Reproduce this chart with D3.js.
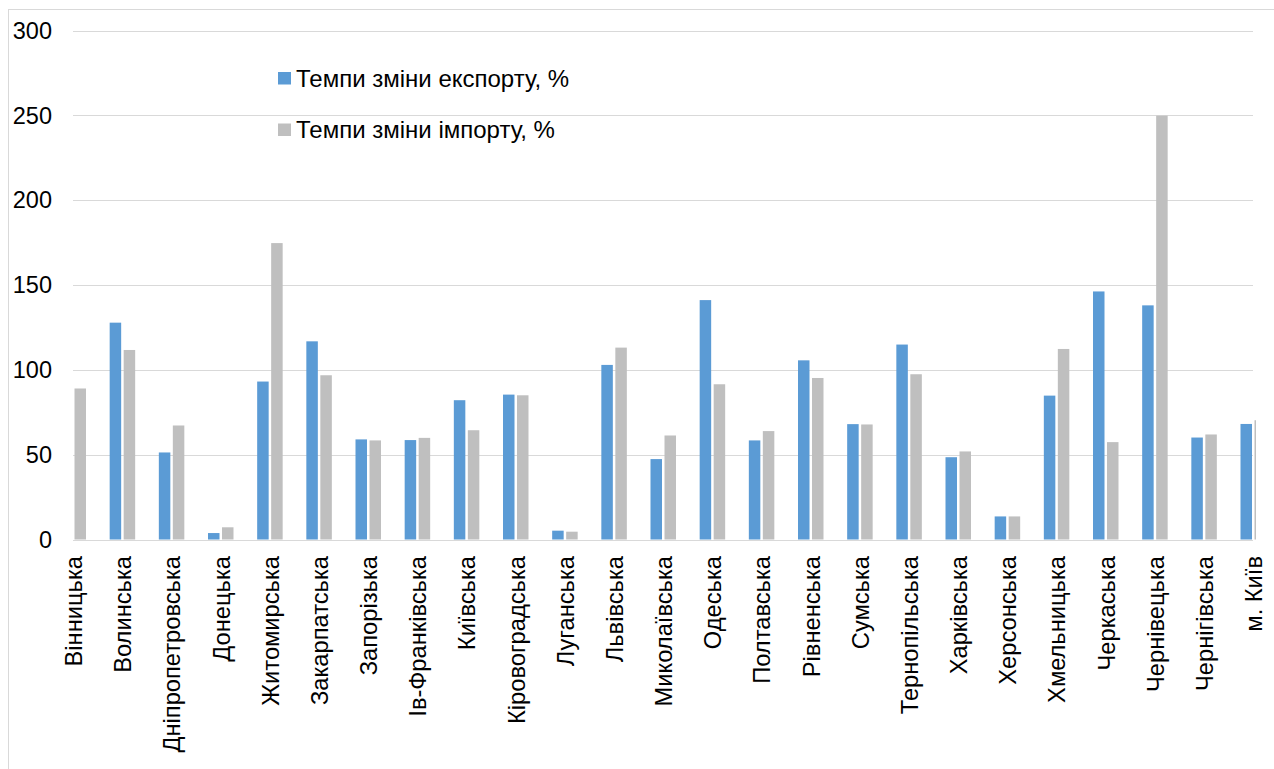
<!DOCTYPE html>
<html>
<head>
<meta charset="utf-8">
<script src="https://d3js.org/d3.v7.min.js"></script>
<style>
  body { margin: 0; background: #fff; }
  svg text { font-family: "Liberation Sans", Arial, sans-serif; fill: #000; }
</style>
</head>
<body>
<script>
// regions (categories) and the two series
var regions = ["Вінницька", "Волинська", "Дніпропетровська", "Донецька", "Житомирська",
  "Закарпатська", "Запорізька", "Ів-Франківська", "Київська", "Кіровоградська",
  "Луганська", "Львівська", "Миколаївська", "Одеська", "Полтавська", "Рівненська",
  "Сумська", "Тернопільська", "Харківська", "Херсонська", "Хмельницька",
  "Черкаська", "Чернівецька", "Чернігівська", "м. Київ"];

var exportRate = [null, 127.8, 51.3, 3.8, 93.1, 116.8, 59.0, 58.6, 82.1, 85.4,
  5.2, 102.9, 47.4, 141.1, 58.4, 105.6, 68.0, 114.9, 48.5, 13.6,
  84.8, 146.2, 138.0, 60.1, 68.1];

var importRate = [89.0, 111.7, 67.2, 7.2, 174.7, 96.8, 58.4, 59.9, 64.4, 85.0,
  4.6, 113.1, 61.3, 91.5, 63.9, 95.2, 67.8, 97.4, 51.9, 13.6,
  112.3, 57.4, 249.8, 61.9, 70.3];

var yTicks = [0, 50, 100, 150, 200, 250, 300];

var seriesNames = ["Темпи зміни експорту, %", "Темпи зміни імпорту, %"];
var colors = ["#5B9BD5", "#BFBFBF"];

var W = 1274, H = 769;
var plotL = 73, plotR = 1253, plotT = 30.5, plotB = 539.5;

var svg = d3.select("body").append("svg")
  .attr("width", W)
  .attr("height", H);

// outer chart frame (runs off the right and bottom of the picture)
svg.append("rect")
  .attr("x", 8.5).attr("y", 9.5)
  .attr("width", W + 20).attr("height", H + 20)
  .attr("fill", "none").attr("stroke", "#d9d9d9");

// categories sit on the tick marks, so first and last bars get cut by the plot edge
var x = d3.scalePoint()
  .domain(regions)
  .range([plotL, plotR]);

var y = d3.scaleLinear()
  .domain([0, 300])
  .range([plotB, plotT]);

// gridlines
svg.append("g")
  .selectAll("line")
  .data(yTicks)
  .enter().append("line")
    .attr("x1", plotL).attr("x2", plotR)
    .attr("y1", d => Math.round(y(d)) + 0.5)
    .attr("y2", d => Math.round(y(d)) + 0.5)
    .attr("stroke", "#d9d9d9")
    .attr("stroke-width", 1);

// y tick labels
svg.append("g")
  .selectAll("text")
  .data(yTicks)
  .enter().append("text")
    .attr("x", 52)
    .attr("y", d => y(d))
    .attr("dy", "0.35em")
    .attr("text-anchor", "end")
    .style("font-size", "23.5px")
    .text(d => d);

svg.append("clipPath").attr("id", "plot")
  .append("rect")
    .attr("x", plotL).attr("y", 0)
    .attr("width", plotR - plotL + 3).attr("height", H);

var bars = svg.append("g").attr("clip-path", "url(#plot)");
var barW = 11.5;

[exportRate, importRate].forEach(function(vals, s) {
  bars.append("g")
    .selectAll("rect")
    .data(regions.map((r, i) => ({region: r, v: vals[i]})).filter(d => d.v != null))
    .enter().append("rect")
      .attr("x", d => s === 0 ? x(d.region) - 12.5 : x(d.region) + 1.5)
      .attr("width", barW)
      .attr("y", d => y(d.v))
      .attr("height", d => y(0) - y(d.v))
      .attr("fill", colors[s]);
});

// category labels, rotated
svg.append("g")
  .selectAll("text")
  .data(regions)
  .enter().append("text")
    .attr("transform", d => "translate(" + x(d) + ",556) rotate(-90)")
    .attr("dy", "0.38em")
    .attr("text-anchor", "end")
    .style("font-size", "23.7px")
    .text(d => d);

// legend
var legend = svg.append("g");
seriesNames.forEach(function(name, i) {
  var ly = 72 + i * 51.5;
  legend.append("rect")
    .attr("x", 278).attr("y", ly)
    .attr("width", 13).attr("height", 12.5)
    .attr("fill", colors[i]);
  legend.append("text")
    .attr("x", 296)
    .attr("y", ly + 14.5)
    .style("font-size", "24px")
    .text(name);
});
</script>
</body>
</html>
